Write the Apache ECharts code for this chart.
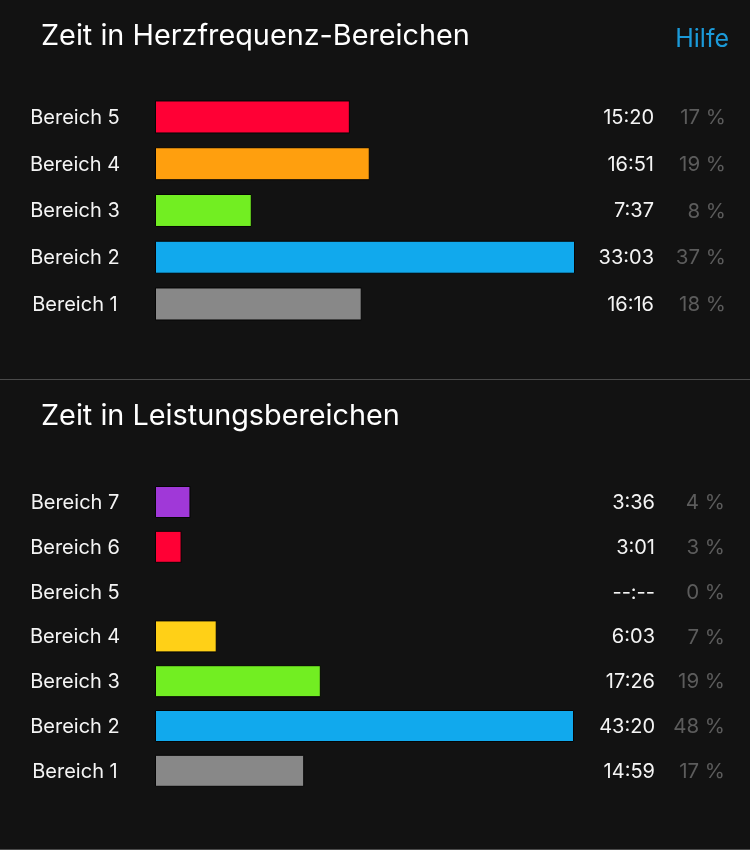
<!DOCTYPE html>
<html>
<head>
<meta charset="utf-8">
<title>Zeit in Bereichen</title>
<script src="https://cdn.jsdelivr.net/npm/echarts@6/dist/echarts.min.js"></script>
<style>
    html, body { margin: 0; padding: 0; background: #121212; }
    #chart { width: 750px; height: 850px; }
</style>
</head>
<body>
<div id="chart"></div>
<script>
    // bar lengths are read off the bars, they don't quite follow the printed times

    // Herzfrequenz
    var hfZones = ['Bereich 5', 'Bereich 4', 'Bereich 3', 'Bereich 2', 'Bereich 1'];
    var hfSeconds = [920, 1014, 457, 1983, 976];
    var hfTimes = ['15:20', '16:51', '7:37', '33:03', '16:16'];
    var hfPercent = ['17 %', '19 %', '8 %', '37 %', '18 %'];
    var hfColors = ['#ff0035', '#ff9f0e', '#72ee22', '#11a9ed', '#888888'];

    // Leistung
    var powerZones = ['Bereich 7', 'Bereich 6', 'Bereich 5', 'Bereich 4', 'Bereich 3', 'Bereich 2', 'Bereich 1'];
    var powerSeconds = [220, 165, null, 383, 1029, 2600, 926];
    var powerTimes = ['3:36', '3:01', '--:--', '6:03', '17:26', '43:20', '14:59'];
    var powerPercent = ['4 %', '3 %', '0 %', '7 %', '19 %', '48 %', '17 %'];
    var powerColors = ['#a038d8', '#ff0035', '#121212', '#ffd017', '#72ee22', '#11a9ed', '#888888'];

    var font = 'Inter, "Noto Sans", sans-serif';

    function labelAxis(grid, data, position, margin, align, color, size) {
        return {
            type: 'category',
            gridIndex: grid,
            inverse: true,
            position: position,
            data: data,
            axisLine: { show: false },
            axisTick: { show: false },
            axisLabel: { margin: margin, align: align, color: color, fontFamily: font, fontSize: size }
        };
    }

    function barAxis(grid, data) {
        return { type: 'category', gridIndex: grid, inverse: true, data: data, show: false };
    }

    function barSeries(grid, values, colors, barWidth) {
        return {
            type: 'bar',
            xAxisIndex: grid,
            yAxisIndex: grid,
            barWidth: barWidth,
            silent: true,
            data: values.map(function (v, i) {
                return { value: v, itemStyle: { color: colors[i], borderColor: '#050505', borderWidth: 1 } };
            })
        };
    }

    var option = {
        backgroundColor: '#121212',
        animation: false,
        title: [
            { text: 'Zeit in Herzfrequenz-Bereichen', left: 36, top: 17, textStyle: { color: '#fff', fontFamily: font, fontWeight: 400, fontSize: 28.8 } },
            { text: 'Hilfe', right: 16, top: 22, textStyle: { color: '#1b9ad9', fontFamily: font, fontWeight: 400, fontSize: 25 } },
            { text: 'Zeit in Leistungsbereichen', left: 36, top: 397, textStyle: { color: '#fff', fontFamily: font, fontWeight: 400, fontSize: 28.8 } }
        ],
        // grids 0/1 hold the bars, 2/3 the same rows a pixel lower for the text columns
        grid: [
            { left: 155, width: 420, top: 93.6, height: 233.75 },
            { left: 155, width: 419, top: 479.6, height: 313.6 },
            { left: 155, width: 420, top: 94.6, height: 233.75 },
            { left: 155, width: 419, top: 480.6, height: 313.6 }
        ],
        xAxis: [
            { type: 'value', gridIndex: 0, min: 0, max: 1983, show: false },
            { type: 'value', gridIndex: 1, min: 0, max: 2600, show: false },
            { type: 'value', gridIndex: 2, show: false },
            { type: 'value', gridIndex: 3, show: false }
        ],
        yAxis: [
            barAxis(0, hfZones),
            barAxis(1, powerZones),
            labelAxis(2, hfZones, 'left', 80, 'center', '#f4f4f4', 20),
            labelAxis(2, hfTimes, 'right', 79, 'right', '#f4f4f4', 20),
            labelAxis(3, powerZones, 'left', 80, 'center', '#f4f4f4', 20),
            labelAxis(3, powerTimes, 'right', 81, 'right', '#f4f4f4', 20),
            // percent columns sit further right, a third axis per grid needs its own offset
            Object.assign(labelAxis(2, hfPercent, 'right', 151, 'right', '#5c5c5c', 20.5), { offset: 0 }),
            Object.assign(labelAxis(3, powerPercent, 'right', 151, 'right', '#5c5c5c', 20.5), { offset: 0 })
        ],
        series: [
            barSeries(0, hfSeconds, hfColors, 33),
            barSeries(1, powerSeconds, powerColors, 32)
        ],
        graphic: [
            { type: 'rect', shape: { x: 0, y: 379, width: 750, height: 1 }, style: { fill: '#4a4a4a' } },
            { type: 'rect', shape: { x: 0, y: 849, width: 750, height: 1 }, style: { fill: '#4a4a4a' } }
        ]
    };

    var myChart = echarts.init(document.getElementById('chart'));
    myChart.setOption(option);
</script>
</body>
</html>
